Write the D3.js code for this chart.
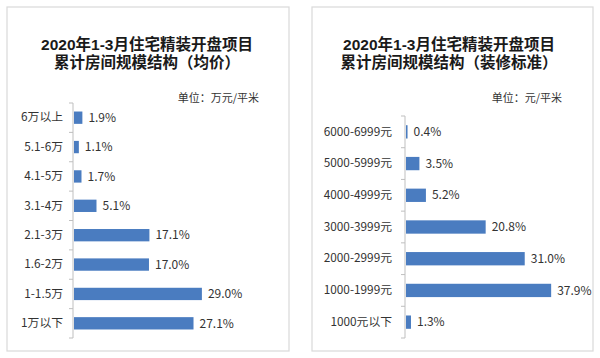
<!DOCTYPE html>
<html><head><meta charset="utf-8">
<script src="https://cdn.jsdelivr.net/npm/d3@7"></script>
<style>
body{margin:0;background:#fff;}
svg{display:block;font-family:"Noto Sans CJK SC","Noto Sans",sans-serif;}
</style></head>
<body><svg id="c" width="600" height="358"></svg>
<script>
const leftTitle = ["2020年1-3月住宅精装开盘项目", "累计房间规模结构（均价）"];
const leftUnit = "单位：万元/平米";
const leftCats = ["6万以上", "5.1-6万", "4.1-5万", "3.1-4万", "2.1-3万", "1.6-2万", "1-1.5万", "1万以下"];
const leftVals = [1.9, 1.1, 1.7, 5.1, 17.1, 17.0, 29.0, 27.1];

const rightTitle = ["2020年1-3月住宅精装开盘项目", "累计房间规模结构（装修标准）"];
const rightUnit = "单位：元/平米";
const rightCats = ["6000-6999元", "5000-5999元", "4000-4999元", "3000-3999元", "2000-2999元", "1000-1999元", "1000元以下"];
const rightVals = [0.4, 3.5, 5.2, 20.8, 31.0, 37.9, 1.3];

const svg = d3.select("#c");
const barColor = "#4a7cc0";

function panel(cfg) {
  const g = svg.append("g");
  g.append("rect").attr("x", cfg.box[0]).attr("y", cfg.box[1])
    .attr("width", cfg.box[2]).attr("height", cfg.box[3])
    .attr("fill", "#fff").attr("stroke", "#d9d9d9").attr("stroke-width", 1.2);
  cfg.title.forEach((t, i) => {
    g.append("text").attr("x", cfg.titleX).attr("y", 50 + i * 18)
      .attr("text-anchor", "middle").attr("font-size", 15.5).attr("font-weight", "bold")
      .attr("font-family", "'Liberation Sans','Noto Sans CJK SC',sans-serif")
      .attr("fill", "#1a1a1a").text(t);
  });
  g.append("text").attr("x", cfg.unitX).attr("y", 102).attr("text-anchor", "end")
    .attr("font-size", 11).attr("fill", "#333").text(cfg.unit);

  const y = d3.scaleBand().domain(cfg.cats).range([cfg.y0, cfg.y1]).paddingInner(0.58).paddingOuter(0.29);
  const x = d3.scaleLinear().domain([0, cfg.xmax]).range([cfg.x0, cfg.x1]);

  const axis = d3.axisLeft(y).tickSize(0).tickPadding(cfg.pad);
  const ag = g.append("g").attr("transform", `translate(${cfg.x0 - 1},0)`).call(axis);
  ag.select(".domain").remove();
  ag.selectAll("text").attr("font-size", 11.8).attr("fill", "#333")
    .attr("font-family", "'Noto Sans CJK SC','Noto Sans',sans-serif");
  g.append("line").attr("x1", cfg.x0 - 1).attr("x2", cfg.x0 - 1)
    .attr("y1", cfg.y0).attr("y2", cfg.y1).attr("stroke", "#bfbfbf");
  const step = y.step();
  const bounds = d3.range(cfg.cats.length + 1).map(i => cfg.y0 + i * step);
  g.selectAll(".tk").data(bounds).enter().append("line")
    .attr("x1", cfg.x0 - 5).attr("x2", cfg.x0 - 1)
    .attr("y1", d => d).attr("y2", d => d).attr("stroke", "#bfbfbf");

  g.selectAll(".bar").data(cfg.vals).enter().append("rect")
    .attr("x", x(0)).attr("y", (d, i) => y(cfg.cats[i]))
    .attr("width", d => x(d) - x(0)).attr("height", y.bandwidth())
    .attr("fill", barColor);
  g.selectAll(".lbl").data(cfg.vals).enter().append("text")
    .attr("x", d => x(d) + 6).attr("y", (d, i) => y(cfg.cats[i]) + y.bandwidth() / 2)
    .attr("dy", "0.35em").attr("font-size", 12).attr("fill", "#333")
    .text(d => d.toFixed(1) + "%");
}

panel({box: [7, 7, 282, 344], title: leftTitle, titleX: 147, unit: leftUnit, unitX: 259,
  cats: leftCats, vals: leftVals, y0: 103, y1: 338, x0: 74, x1: 206.3, xmax: 30, pad: 10});
panel({box: [312, 7, 281, 344], title: rightTitle, titleX: 449, unit: rightUnit, unitX: 562,
  cats: rightCats, vals: rightVals, y0: 116, y1: 338, x0: 406, x1: 559.2, xmax: 40, pad: 13});
</script></body></html>
